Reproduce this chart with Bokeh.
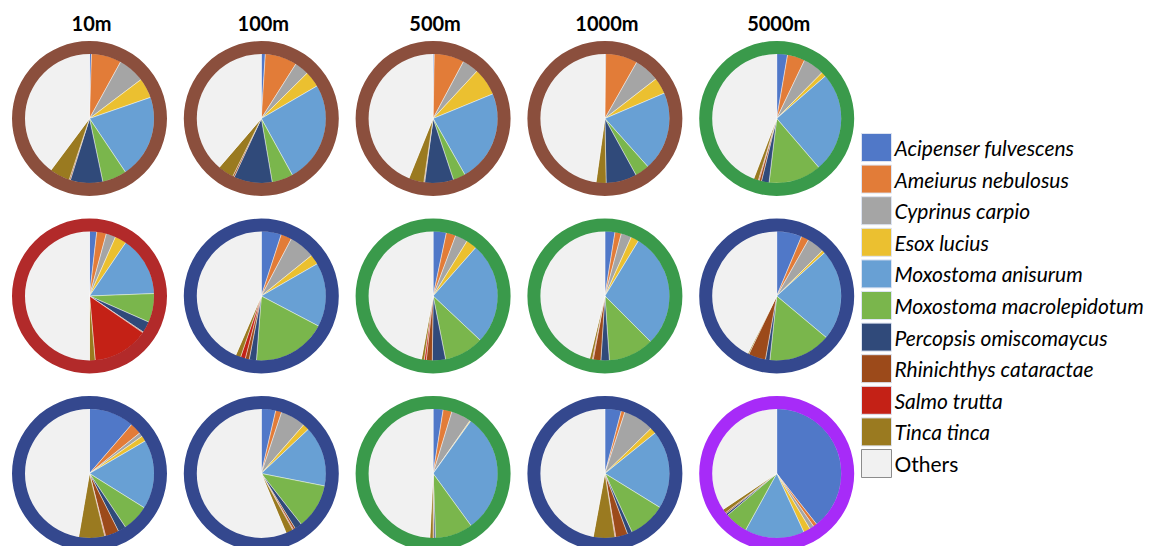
import math
from bokeh.plotting import figure
from bokeh.models import ColumnDataSource, Range1d
from bokeh.core.properties import value
from bokeh.embed import file_html
from bokeh.resources import INLINE

# ---------------- data ----------------
species = ["Acipenser fulvescens", "Ameiurus nebulosus", "Cyprinus carpio", "Esox lucius",
           "Moxostoma anisurum", "Moxostoma macrolepidotum", "Percopsis omiscomaycus",
           "Rhinichthys cataractae", "Salmo trutta", "Tinca tinca", "Others"]
species_colors = ["#5078C8", "#E27C38", "#A5A5A5", "#EBC030", "#68A0D4", "#7AB64C",
                  "#304A7A", "#9C4A1A", "#C42116", "#9A7A20", "#F1F1F1"]
distances = ["10m", "100m", "500m", "1000m", "5000m"]

# percentage shares, order as in `species`
row1_10m = [0.5, 7.5, 6.7, 5.0, 20.9, 6.1, 8.1, 0.3, 0.0, 5.1, 39.8]
row1_100m = [1.0, 8.0, 3.6, 4.0, 25.4, 5.3, 9.6, 0.4, 0.0, 4.0, 38.7]
row1_500m = [0.3, 7.5, 4.1, 6.9, 23.0, 3.1, 7.2, 0.2, 0.0, 3.8, 43.9]
row1_1000m = [0.2, 8.0, 6.3, 4.1, 19.8, 3.6, 7.7, 0.0, 0.0, 2.5, 47.8]
row1_5000m = [2.7, 4.4, 5.3, 1.2, 25.1, 13.2, 1.9, 0.6, 0.2, 1.2, 44.2]

row2_10m = [1.8, 2.4, 2.4, 2.9, 14.9, 7.2, 2.8, 0.2, 14.0, 1.4, 50.0]
row2_100m = [5.0, 2.7, 6.5, 2.5, 16.0, 18.5, 1.8, 1.0, 1.2, 1.3, 43.5]
row2_500m = [3.3, 2.4, 3.1, 2.7, 25.5, 9.9, 3.3, 1.5, 0.5, 0.7, 47.1]
row2_1000m = [2.5, 1.6, 2.6, 2.0, 28.8, 11.4, 2.1, 1.9, 0.2, 0.7, 46.2]
row2_5000m = [6.3, 1.9, 4.4, 0.7, 22.8, 15.6, 1.1, 4.3, 0.0, 0.3, 42.6]

row3_10m = [11.3, 2.9, 1.0, 1.4, 17.3, 6.7, 2.0, 3.4, 0.2, 6.5, 47.3]
row3_100m = [3.6, 1.5, 6.3, 1.6, 15.1, 11.3, 1.8, 0.5, 0.2, 1.8, 56.3]
row3_500m = [2.5, 2.2, 5.0, 0.2, 30.1, 9.4, 0.4, 0.2, 0.0, 0.8, 49.2]
row3_1000m = [4.1, 0.9, 7.7, 1.5, 19.6, 9.3, 1.2, 3.0, 0.2, 5.4, 47.1]
row3_5000m = [39.4, 0.9, 1.1, 1.7, 14.9, 5.8, 0.5, 0.3, 0.0, 1.0, 34.4]

ring_row1 = ["#8B4F3D", "#8B4F3D", "#8B4F3D", "#8B4F3D", "#3A9A4B"]
ring_row2 = ["#B22A2A", "#34488E", "#3A9A4B", "#3A9A4B", "#34488E"]
ring_row3 = ["#34488E", "#34488E", "#3A9A4B", "#34488E", "#A72BF8"]

rows = [
    [row1_10m, row1_100m, row1_500m, row1_1000m, row1_5000m],
    [row2_10m, row2_100m, row2_500m, row2_1000m, row2_5000m],
    [row3_10m, row3_100m, row3_500m, row3_1000m, row3_5000m],
]
rings = [ring_row1, ring_row2, ring_row3]

# ---------------- layout ----------------
W, H = 1150, 546
X0, DX = 89, 171.8
Y0, DY = 118, 177.5
R_PIE, R_OUT = 65, 77.5
LEG_X, LEG_Y0, LEG_DY = 876, 147, 31.6


def sy(y):  # screen y (from top) -> data y
    return H - y


p = figure(width=W, height=H, output_backend="svg", toolbar_location=None,
           x_range=Range1d(0, W), y_range=Range1d(0, H),
           min_border=0, outline_line_color=None)
p.axis.visible = False
p.grid.visible = False

wx, wy, ws, we, wc = [], [], [], [], []
ax, ay, ac = [], [], []
for r, row in enumerate(rows):
    for c, vals in enumerate(row):
        cx, cy = X0 + c * DX, sy(Y0 + r * DY)
        total = sum(vals)
        cum = 0.0
        for k, v in enumerate(vals):
            if v <= 0:
                continue
            t0 = cum / total * 2 * math.pi
            cum += v
            t1 = cum / total * 2 * math.pi
            wx.append(cx); wy.append(cy)
            ws.append(math.pi / 2 - t0); we.append(math.pi / 2 - t1)
            wc.append(species_colors[k])
        ax.append(cx); ay.append(cy); ac.append(rings[r][c])

wsrc = ColumnDataSource(dict(x=wx, y=wy, s=ws, e=we, c=wc))
p.wedge(x="x", y="y", radius=R_PIE, radius_units="screen", start_angle="s", end_angle="e",
        direction="clock", fill_color="c", line_color="white", line_width=0.6, line_alpha=0.7,
        source=wsrc)
p.annulus(x=ax, y=ay, inner_radius=R_PIE - 0.5, outer_radius=R_OUT, inner_radius_units="screen",
          outer_radius_units="screen", fill_color=ac, line_color=None)

# column titles
p.text(x=[X0 + c * DX + 2 for c in range(len(distances))], y=[sy(22)] * len(distances),
       text=distances, text_font=value("Lato"), text_font_style="bold",
       text_font_size="20px", text_align="center", text_baseline="middle", text_color="black")

# legend
ly = [sy(LEG_Y0 + i * LEG_DY) for i in range(len(species))]
p.rect(x=[LEG_X] * len(species), y=ly, width=30, height=28, width_units="screen",
       height_units="screen", fill_color=species_colors,
       line_color=["#DDE4F2"] * (len(species) - 1) + ["#8C8C8C"], line_width=1)
styles = ["italic"] * (len(species) - 1) + ["normal"]
p.text(x=[LEG_X + 18] * len(species), y=ly, text=species, text_font=value("Lato"),
       text_font_style=styles, text_font_size="21px", text_align="left",
       text_baseline="middle", text_color="black")

open("out.html", "w").write(file_html(p, INLINE))
